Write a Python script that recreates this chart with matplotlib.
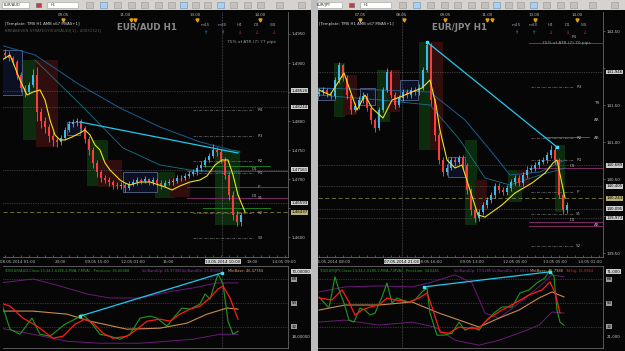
import matplotlib.pyplot as plt
import matplotlib.transforms as mtransforms
from matplotlib.patches import Rectangle
import numpy as np

W, H = 625, 351
BG = "#060606"
TXT = "#b8b8b8"
BULL = "#3db6f2"
BEAR = "#ff3a3a"

# ---------------- EUR/AUD H1 ------------------------------------------------
aud_close = [1.4914, 1.4909, 1.4902, 1.4879, 1.4857, 1.4850, 1.4862, 1.4880, 1.4815, 1.4800,
             1.4790, 1.4775, 1.4767, 1.4764, 1.4771, 1.4785, 1.4795, 1.4798, 1.4800, 1.4788,
             1.4769, 1.4750, 1.4728, 1.4712, 1.4702, 1.4699, 1.4695, 1.4690, 1.4689, 1.4690,
             1.4685, 1.4692, 1.4695, 1.4699, 1.4697, 1.4700, 1.4695, 1.4699, 1.4694, 1.4689,
             1.4694, 1.4695, 1.4697, 1.4702, 1.4702, 1.4706, 1.4709, 1.4712, 1.4719, 1.4725,
             1.4733, 1.4740, 1.4750, 1.4747, 1.4733, 1.4707, 1.4673, 1.4639, 1.4627, 1.4639]
aud_high = [1.4925, 1.4920, 1.4912, 1.4905, 1.4884, 1.4862, 1.4868, 1.4890, 1.4893, 1.4822,
            1.4808, 1.4796, 1.4781, 1.4773, 1.4777, 1.4790, 1.4801, 1.4804, 1.4806, 1.4804,
            1.4792, 1.4774, 1.4755, 1.4733, 1.4716, 1.4707, 1.4704, 1.4699, 1.4696, 1.4695,
            1.4694, 1.4697, 1.4700, 1.4704, 1.4703, 1.4705, 1.4703, 1.4704, 1.4703, 1.4698,
            1.4699, 1.4700, 1.4702, 1.4707, 1.4708, 1.4711, 1.4715, 1.4718, 1.4724, 1.4731,
            1.4738, 1.4746, 1.4760, 1.4755, 1.4752, 1.4738, 1.4712, 1.4680, 1.4645, 1.4644]
aud_low = [1.4908, 1.4904, 1.4896, 1.4872, 1.4850, 1.4842, 1.4846, 1.4858, 1.4800, 1.4788,
           1.4780, 1.4765, 1.4758, 1.4756, 1.4759, 1.4768, 1.4781, 1.4790, 1.4792, 1.4782,
           1.4762, 1.4742, 1.4720, 1.4704, 1.4695, 1.4693, 1.4688, 1.4684, 1.4683, 1.4684,
           1.4679, 1.4681, 1.4688, 1.4691, 1.4692, 1.4693, 1.4690, 1.4691, 1.4689, 1.4684,
           1.4686, 1.4690, 1.4691, 1.4694, 1.4697, 1.4699, 1.4702, 1.4705, 1.4708, 1.4715,
           1.4721, 1.4729, 1.4737, 1.4740, 1.4728, 1.4700, 1.4665, 1.4630, 1.4620, 1.4620]
aud_first_open = 1.4918
aud_ma_x = [-0.75, 1.25, 3.75, 5.5, 7, 8.75, 10, 11.25, 12.5, 13.75, 15, 16.75, 18.75, 20,
            21.25, 22.5, 23.75, 25, 26.25, 27.5, 28.75, 30, 31.25, 33.75, 36.25, 40, 41.75,
            43.75, 46.25, 48.75, 50.5, 52.5, 54.25, 55.75, 57, 58.25, 60]
aud_ma = [1.49053, 1.49139, 1.48709, 1.48451, 1.48502, 1.48537, 1.48365, 1.48021, 1.47763,
          1.47677, 1.47677, 1.47728, 1.47797, 1.47849, 1.47763, 1.47591, 1.47505, 1.47281,
          1.47161, 1.47075, 1.46989, 1.46937, 1.46903, 1.46954, 1.46954, 1.46868, 1.46817,
          1.46886, 1.46954, 1.46989, 1.47058, 1.47247, 1.47333, 1.47333, 1.47075, 1.46731,
          1.46438]
aud_slow1_x = [-1.25, 7.5, 18.75, 28.75, 38.75, 48.75, 58.75]
aud_slow1 = [1.49311, 1.49139, 1.48623, 1.48227, 1.47900, 1.47642, 1.47470]
aud_slow2_x = [7.5, 19.5, 29.5, 38.75, 46.25, 53.75, 58.75]
aud_slow2 = [1.49053, 1.48244, 1.47539, 1.47247, 1.47161, 1.47126, 1.47126]
aud_trend_x = [18.75, 58.25]
aud_trend = [1.47986, 1.47453]
aud_zone_x0 = [4.5, 7.75, 20.5, 23.25, 37.5, 41.25, 52.5]
aud_zone_x1 = [9.5, 13.25, 25.75, 29.25, 42.5, 46.25, 58.75]
aud_zone_lo = [1.47677, 1.47557, 1.46886, 1.46868, 1.46679, 1.46696, 1.46215]
aud_zone_hi = [1.49053, 1.49053, 1.47677, 1.47333, 1.47126, 1.47023, 1.47505]
aud_zone_buy = [True, False, True, False, True, False, True]
aud_range_x0 = [-1.25, 15.5, 29.5]
aud_range_x1 = [4.25, 18.75, 38]
aud_range_lo = [1.48451, 1.47763, 1.46782]
aud_range_hi = [1.49225, 1.47986, 1.47126]
aud_pivot_names = ["R4", "R3", "R2", "R1", "P", "S1", "S2", "S3"]
aud_pivots = [1.48193, 1.47746, 1.47316, 1.47109, 1.46868, 1.46679, 1.46421, 1.45991]
aud_daily_names = ["D1", "", "D1"]
aud_daily = [1.47144, 1.46868, 1.46679]
aud_green_levels = [1.47230, 1.46507]
aud_marks = [1.48520, 1.48244, 1.47161, 1.46593]
aud_current = 1.46437
aud_price_ticks = [1.4600, 1.4650, 1.4700, 1.4750, 1.4800, 1.4850, 1.4900, 1.4950]
aud_time_x = [3.25, 13.75, 23, 32, 40.75, 54.5, 61.75, 69.75]
aud_time_lbl = ["08.05.2014 01:00", "23:00", "09.05 15:00", "12.05 01:00", "15:00",
                "13.05.2014 10:00", "19:00", "14.05 09:00"]
aud_cursor = 54.25
aud_top_x = [14.5, 30, 47.5, 63.75]
aud_top_lbl = ["09.05", "11.00", "13.00", "14.00"]
aud_sess_x = [14.5, 31.5, 32.5, 48, 63.75]

# TDI sub-window EUR/AUD
aud_fast_x = [-1.25, 1.25, 3.75, 6.75, 8.75, 11.25, 15, 18, 19.25, 21.25, 23.75, 26.25, 28.75,
              31.25, 33.75, 36.25, 38, 40.5, 42.5, 44.25, 46.25, 48.75, 50, 51.25, 53.25, 54.5,
              55.75, 57, 58.25]
aud_fast = [53.8, 30.2, 26.4, 38.6, 26.4, 24.9, 34.0, 38.6, 41.6, 36.3, 26.4, 24.9, 22.6, 26.4,
            38.6, 40.1, 38.6, 32.5, 40.1, 46.2, 45.4, 49.2, 56.8, 53.0, 72.0, 64.4, 36.3, 26.4,
            28.7]
aud_sig_x = [-1.25, 1.25, 4.5, 8, 12, 14.5, 17.5, 20, 22, 24.5, 27, 30.5, 33, 35.5, 38.75,
             41.25, 43.75, 46.25, 48.75, 51.25, 53.25, 54.5, 56.25, 58.25]
aud_sig = [50.0, 47.7, 38.6, 32.5, 23.4, 24.9, 34.0, 37.8, 34.8, 27.2, 23.4, 24.9, 30.2, 36.3,
           37.8, 36.3, 41.6, 45.4, 47.7, 53.8, 60.6, 62.9, 53.8, 37.8]
aud_base_x = [-1.25, 7, 15.5, 21.25, 30.5, 38.75, 45.5, 50.5, 55.5, 58.25]
aud_base = [43.9, 43.9, 41.6, 36.3, 30.2, 31.0, 34.8, 41.6, 46.2, 45.4]
aud_up_x = [-1.25, 7, 13.75, 20.5, 26.25, 33.75, 42, 47, 53, 58.25]
aud_up = [65.2, 68.2, 62.9, 56.8, 53.8, 53.8, 59.1, 61.4, 65.2, 65.2]
aud_dn_x = [-1.25, 7, 15.5, 23.75, 33.75, 40.5, 47, 53.75, 58.25]
aud_dn = [31.0, 26.4, 21.1, 19.6, 19.6, 21.1, 22.6, 26.4, 26.4]
aud_tdi_trend_x = [18.75, 54.25]
aud_tdi_trend = [40.1, 72.8]
aud_tdi_text = ["TDI(EUR/AUD,Close,13,34,1.6185,2,MVA,7,MVA) - PriceLine: 36.60488",
                "VolBandUp: 65.97306", "VolBandDn: 25.80060", "MktBase: 46.47784"]
aud_tdi_scale = ["70,00000", "18,00000"]

# ---------------- EUR/JPY H1 ------------------------------------------------
jpy_close = [141.676, 141.703, 141.649, 141.622, 141.838, 142.041, 141.865, 141.635, 141.432,
             141.486, 141.568, 141.622, 141.459, 141.297, 141.189, 141.432, 141.703, 141.946,
             141.635, 141.500, 141.595, 141.676, 141.635, 141.703, 141.676, 141.730, 141.973,
             142.311, 141.568, 141.095, 140.757, 140.595, 140.649, 140.757, 140.730, 140.784,
             140.689, 140.351, 140.081, 139.973, 140.054, 140.149, 140.216, 140.284, 140.405,
             140.351, 140.324, 140.378, 140.459, 140.514, 140.446, 140.554, 140.622, 140.649,
             140.689, 140.730, 140.757, 140.824, 140.892, 140.757, 140.284, 140.081, 140.149]
jpy_high = [141.73, 141.75, 141.73, 141.68, 141.88, 142.08, 142.06, 141.90, 141.66, 141.53,
            141.62, 141.67, 141.66, 141.49, 141.33, 141.47, 141.75, 142.00, 141.97, 141.67,
            141.64, 141.72, 141.71, 141.75, 141.74, 141.78, 142.02, 142.36, 142.34, 141.60,
            141.13, 140.80, 140.70, 140.80, 140.80, 140.83, 140.82, 140.72, 140.38, 140.12,
            140.10, 140.19, 140.26, 140.33, 140.45, 140.44, 140.39, 140.42, 140.50, 140.56,
            140.55, 140.60, 140.67, 140.69, 140.73, 140.77, 140.80, 140.87, 140.96, 140.93,
            140.79, 140.32, 140.19]
jpy_low = [141.62, 141.64, 141.61, 141.58, 141.60, 141.80, 141.82, 141.58, 141.38, 141.40,
           141.45, 141.53, 141.42, 141.24, 141.13, 141.16, 141.40, 141.68, 141.60, 141.45,
           141.47, 141.56, 141.59, 141.60, 141.63, 141.64, 141.70, 141.95, 141.50, 141.02,
           140.70, 140.54, 140.56, 140.62, 140.68, 140.70, 140.64, 140.30, 140.02, 139.92,
           139.93, 140.01, 140.11, 140.18, 140.25, 140.31, 140.28, 140.29, 140.34, 140.42,
           140.40, 140.41, 140.52, 140.59, 140.61, 140.65, 140.70, 140.72, 140.79, 140.70,
           140.24, 140.03, 140.04]
jpy_first_open = 141.650
jpy_ma_x = [0, 2.75, 6.25, 9.5, 11.5, 13.25, 16, 18.25, 20.25, 23.25, 25.75, 27.75, 29.25,
            30.25, 32, 34, 35.75, 37.75, 39.75, 41.5, 45.75, 49, 53.25, 56.5, 58.5, 59.5, 61.5]
jpy_ma = [141.703, 141.635, 141.932, 141.432, 141.635, 141.459, 141.324, 141.568, 141.608,
          141.676, 141.730, 141.838, 141.500, 141.162, 140.757, 140.649, 140.689, 140.351,
          140.014, 139.986, 140.149, 140.311, 140.446, 140.581, 140.716, 140.757, 140.243]
jpy_slow1_x = [0, 15.25, 27.75, 36.5, 42.75, 47.75, 55.25, 61.5]
jpy_slow1 = [141.730, 141.703, 141.676, 141.297, 140.892, 140.554, 140.595, 140.757]
jpy_slow2_x = [0, 15.25, 27.75, 35.25, 41.5, 47.75, 55.25, 61.5]
jpy_slow2 = [141.635, 141.568, 141.500, 141.027, 140.514, 140.419, 140.554, 140.649]
jpy_trend_x = [27, 59.5]
jpy_trend = [142.351, 140.932]
jpy_zone_x0 = [3.75, 6, 14.5, 17.25, 25, 27.75, 36.5, 39, 47.25, 49.5, 59]
jpy_zone_x1 = [6.5, 9.5, 17.75, 20.25, 28.25, 31, 39.5, 42, 50.75, 52.75, 61.5]
jpy_zone_lo = [141.338, 141.365, 141.270, 141.405, 140.892, 140.892, 139.878, 140.081, 140.189,
               140.419, 140.054]
jpy_zone_hi = [142.068, 141.905, 141.973, 141.973, 142.351, 142.351, 141.027, 140.486, 140.622,
               140.622, 140.959]
jpy_zone_buy = [True, False, True, False, True, False, True, False, True, False, True]
jpy_range_x0 = [-0.25, 10.25, 20.25, 32.25]
jpy_range_x1 = [4, 14, 24.75, 36.5]
jpy_range_lo = [141.568, 141.500, 141.568, 140.527]
jpy_range_hi = [141.730, 141.730, 141.838, 140.797]
jpy_pivot_names = ["R3", "R2", "R1", "P", "S1", "S2"]
jpy_pivots = [141.743, 141.054, 140.757, 140.324, 140.027, 139.595]
jpy_daily_names = ["", "D1", "D1", ""]
jpy_daily = [142.338, 140.649, 139.919, 139.865]
jpy_green_levels = [141.068]
jpy_marks = [141.946, 140.689, 140.405, 140.095, 139.973]
jpy_current = 140.243
jpy_price_ticks = [139.50, 140.00, 140.50, 141.00, 141.50, 142.00, 142.50]
jpy_time_x = [3.5, 20.75, 27.75, 38.25, 49, 59, 67.75]
jpy_time_lbl = ["06.05.2014 08:00", "07.05.2014 21:00", "08.05 16:00", "09.05 13:00",
                "12.05 05:00", "13.05 05:00", "14.05 01:00"]
jpy_cursor = 20.75
jpy_top_x = [10.25, 20.5, 31.5, 42, 53.75, 64.5]
jpy_top_lbl = ["07.05", "08.05", "09.05", "11.00", "13.00", "14.00"]
jpy_sess_x = [10.25, 21.25, 31.5, 42, 43.25, 54, 64.5]

jpy_fast_x = [0, 2.5, 4, 5, 6.25, 7.5, 8.75, 10.25, 11.5, 12.75, 14, 15.75, 17, 18.25, 19.5,
              20.75, 22.5, 24, 25.75, 27, 27.75, 29.5, 31.25, 33.25, 35, 36.5, 38.25, 40, 41.5,
              43.75, 45.75, 48.25, 50.25, 52.5, 54.5, 56.5, 57.75, 58.75, 59.5, 60.25, 61.25]
jpy_fast = [54.6, 46.2, 69.8, 59.9, 50.0, 37.1, 35.6, 46.2, 44.7, 40.9, 42.4, 54.6, 65.2, 50.0,
            53.8, 52.3, 50.8, 52.3, 58.4, 61.4, 42.4, 25.7, 25.7, 27.2, 35.6, 29.5, 31.8, 29.5,
            35.6, 42.4, 47.0, 47.0, 57.6, 59.9, 65.2, 69.0, 75.1, 69.8, 44.7, 35.6, 33.3]
jpy_sig_x = [0, 3.25, 5.75, 7.5, 9, 10.75, 12.75, 15, 17, 19, 22.5, 25, 27, 28.25, 30.25, 32.5,
             35, 37.5, 40, 42.5, 45.75, 49, 52.5, 55.75, 57.75, 59, 60.25]
jpy_sig = [53.8, 52.3, 59.9, 50.8, 40.9, 44.7, 47.0, 48.5, 53.8, 52.3, 50.8, 53.8, 57.6, 47.0,
           28.0, 27.2, 31.8, 31.0, 31.0, 38.6, 44.7, 50.0, 56.1, 59.9, 66.0, 57.6, 42.4]
jpy_base_x = [0, 6.5, 15, 23.25, 30, 36.5, 40, 45, 50, 55, 58.25, 61.25]
jpy_base = [44.7, 48.5, 48.5, 50.8, 42.4, 35.6, 31.8, 38.6, 44.7, 53.8, 58.4, 54.6]
jpy_up_x = [0, 6.5, 15, 23.25, 27.5, 34, 38.25, 41.5, 45, 50, 55, 58.25, 61.25]
jpy_up = [58.4, 62.2, 62.9, 62.2, 65.2, 71.3, 65.2, 42.4, 38.6, 50.0, 62.2, 71.3, 69.8]
jpy_dn_x = [0, 6.5, 15, 23.25, 29, 34, 40, 45, 50, 55, 58.25, 61.25]
jpy_dn = [35.6, 37.1, 33.3, 35.6, 31.8, 21.9, 18.1, 21.9, 27.2, 33.3, 43.2, 42.4]
jpy_tdi_trend_x = [26.25, 57.75]
jpy_tdi_trend = [62.2, 73.6]
jpy_tdi_text = ["TDI(EUR/JPY,Close,13,34,1.6185,2,MVA,7,MVA) - PriceLine: 34.6461",
                "VolBandUp: 73.5285", "VolBandDn: 37.6815", "MktBase: 45.7988",
                "TrdSig: 41.8864"]
jpy_tdi_scale = ["71,000", "21,000"]

tdi_levels = [32, 50, 68]


def px_axes(fig, x, y, w, h):
    return fig.add_axes([x / W, 1 - (y + h) / H, w / W, h / H])


def ftext(fig, x, y, s, **kw):
    return fig.text(x / W, 1 - y / H, s, **kw)


def comma(v, nd):
    return f"{v:.{nd}f}".replace(".", ",")


def dark_axes(ax):
    ax.set_facecolor(BG)
    for name, sp in ax.spines.items():
        sp.set_visible(name in ("right", "bottom"))
        sp.set_color("#7a7a7a")
        sp.set_linewidth(0.5)


def main_chart(fig, x, d):
    ax = px_axes(fig, x, 12, 285, 245)
    dark_axes(ax)
    ax.set_xlim(*d["xlim"])
    ax.set_ylim(*d["ylim"])
    xy = mtransforms.blended_transform_factory(ax.transData, ax.transAxes)
    ay = mtransforms.blended_transform_factory(ax.transAxes, ax.transData)

    # signal zones
    for x0, x1, lo, hi, buy in zip(d["zx0"], d["zx1"], d["zlo"], d["zhi"], d["zbuy"]):
        ax.add_patch(Rectangle((x0, lo), x1 - x0, hi - lo, lw=0,
                               fc="#0d2c0e" if buy else "#300e0e", zorder=1))
    for x0, x1, lo, hi in zip(d["rx0"], d["rx1"], d["rlo"], d["rhi"]):
        ax.add_patch(Rectangle((x0, lo), x1 - x0, hi - lo, lw=0.6, fc="#0b1024",
                               ec="#56658a", zorder=1.5))

    # full width reference lines + boxed labels
    for m in d["marks"]:
        ax.axhline(m, color="#6a6a6a", ls=(0, (1, 1.5)), lw=0.5, zorder=2)
        ax.text(1.012, m, comma(m, d["nd"]), transform=ay, fontsize=2.9, color="black",
                va="center", ha="left", clip_on=False, zorder=8,
                bbox=dict(boxstyle="square,pad=0.12", fc="#cfcfcf", ec="none"))
    ax.axhline(d["current"], color="#7a7a40", ls=(0, (5, 3)), lw=0.6, zorder=2)
    ax.text(1.012, d["current"], comma(d["current"], d["nd"]), transform=ay, fontsize=2.9,
            color="black", va="center", ha="left", clip_on=False, zorder=8,
            bbox=dict(boxstyle="square,pad=0.12", fc="#b8b070", ec="none"))

    # pivots
    for name, p in zip(d["pnames"], d["pivots"]):
        ax.plot([d["pstart"], d["pend"]], [p, p], color="#6e6e6e", lw=0.5,
                ls=(0, (4, 1.5, 1, 1.5)), zorder=2)
        ax.text(d["plabel"], p, name, color="#a8a8a8", fontsize=3, va="center", zorder=6)
    for name, p in zip(d["dnames"], d["daily"]):
        ax.plot([d["dstart"], d["xlim"][1]], [p, p], color="#7a2a62", lw=0.7, zorder=2)
        if name:
            ax.text(d["plabel"] - 1.6, p, name, color="#a8a8a8", fontsize=3, va="bottom")
    for p in d["greens"]:
        ax.plot([d["dstart"] + 4, d["pend"] + 4], [p, p], color="#1d7a1d", lw=0.7, zorder=2)

    # slow averages
    ax.plot(d["s1x"], d["s1"], color="#1a5d94", lw=0.7, zorder=3)
    ax.plot(d["s2x"], d["s2"], color="#16738a", lw=0.6, zorder=3)

    # candles
    c = np.array(d["close"])
    o = np.r_[d["open0"], c[:-1]]
    xs = np.arange(len(c))
    body = np.maximum(np.abs(c - o), d["minbody"])
    cols = np.where(c >= o, BULL, BEAR)
    wick = np.where(c >= o, "#8fd4f7", "#ff8a8a")
    ax.vlines(xs, d["low"], d["high"], colors=wick, lw=0.45, zorder=4)
    ax.bar(xs, body, bottom=np.minimum(o, c), width=0.6, color=cols, lw=0, zorder=4)

    ax.plot(d["max"], d["ma"], color="#f2e21a", lw=0.8, zorder=5)
    ax.plot(d["tx"], d["tr"], color="#20c8f0", lw=0.9, zorder=6)
    if d["tsq"]:
        ax.plot(d["tx"], d["tr"], ls="none", marker="s", ms=2, color="#40e0ff", zorder=7)

    ax.axvline(d["cursor"], color="#707070", ls=(0, (1, 1.2)), lw=0.5, zorder=2)

    # price axis, tick labels hidden where a boxed label sits on top of them
    ax.yaxis.tick_right()
    ax.set_yticks(d["yticks"])
    gap = (d["ylim"][1] - d["ylim"][0]) / 245 * 5
    boxed = d["marks"] + [d["current"]]
    ax.set_yticklabels(["" if min(abs(v - b) for b in boxed) < gap else comma(v, d["tnd"])
                        for v in d["yticks"]])
    ax.tick_params(axis="y", colors="#8a8a8a", labelcolor="#c8c8c8", labelsize=2.9,
                   length=1.5, width=0.4, pad=1)
    ax.set_xticks(np.arange(0, d["xlim"][1], 2))
    ax.set_xticklabels([])
    ax.tick_params(axis="x", colors="#8a8a8a", length=1.5, width=0.4, direction="in")

    # time labels below
    for tx, lbl in zip(d["time_x"], d["time_lbl"]):
        hl = lbl == d["time_hl"]
        ax.text(tx, -0.02, lbl, transform=xy, fontsize=2.9, ha="center", va="center",
                color="black" if hl else TXT, clip_on=False,
                bbox=dict(boxstyle="square,pad=0.12", fc="#cfcfcf", ec="none") if hl else None)
    # session scale on top
    for tx, lbl in zip(d["top_x"], d["top_lbl"]):
        ax.text(tx, 0.988, lbl, transform=xy, fontsize=2.9, ha="center", va="center",
                color=TXT)
    ax.plot(d["sess_x"], [0.966] * len(d["sess_x"]), transform=xy, ls="none", marker="v",
            ms=2.2, color="#e0a010", clip_on=False)
    return ax


def tdi_chart(fig, x, d):
    ax = px_axes(fig, x, 266, 285, 82)
    dark_axes(ax)
    ax.spines["top"].set_visible(True)
    ax.spines["top"].set_color("#7a7a7a")
    ax.spines["top"].set_linewidth(0.5)
    ax.set_xlim(*d["xlim"])
    ax.set_ylim(16, 78)
    for lv in tdi_levels:
        ax.axhline(lv, color="#5c5c5c", ls=(0, (1, 1.5)), lw=0.5)
    ax.axvline(d["cursor"], color="#707070", ls=(0, (1, 1.2)), lw=0.5)
    ax.plot(d["upx"], d["up"], color="#6a1a78", lw=0.7)
    ax.plot(d["dnx"], d["dn"], color="#6a1a78", lw=0.7)
    ax.plot(d["bx"], d["base"], color="#c88a50", lw=0.8)
    ax.plot(d["fx"], d["fast"], color="#1f9a1f", lw=0.8)
    ax.plot(d["sx"], d["sig"], color="#ff1a1a", lw=0.9)
    ax.plot(d["ttx"], d["tt"], color="#20c8f0", lw=0.9)
    ax.plot(d["ttx"], d["tt"], ls="none", marker="s", ms=2, color="#40e0ff")
    ay = mtransforms.blended_transform_factory(ax.transAxes, ax.transData)
    ax.set_yticks([])
    ax.set_xticks([])
    for lv in tdi_levels:
        ax.text(1.012, lv, str(lv), transform=ay, fontsize=2.9, color="black", va="center",
                ha="left", clip_on=False,
                bbox=dict(boxstyle="square,pad=0.12", fc="#9a9a9a", ec="none"))
    top, bottom = d["scale"]
    ax.text(1.012, 0.93, top, transform=ax.transAxes, fontsize=2.9, color="black",
            va="center", ha="left", clip_on=False,
            bbox=dict(boxstyle="square,pad=0.12", fc="#cfcfcf", ec="none"))
    ax.text(1.012, 0.14, bottom, transform=ax.transAxes, fontsize=2.9, color="#c8c8c8",
            va="center", ha="left", clip_on=False)
    return ax


fig = plt.figure(figsize=(6.25, 3.51), dpi=100, facecolor="#b9b9b9")
bg = fig.add_axes([0, 0, 1, 1])
bg.set_xlim(0, W)
bg.set_ylim(H, 0)
bg.axis("off")

for ox, wdt, sym in [(0, 311, "EUR/AUD"), (313, 312, "EUR/JPY")]:
    chart_x = ox if ox == 0 else 318
    bg.add_patch(Rectangle((chart_x, 10), ox + wdt - chart_x, 341, fc=BG, lw=0))
    bg.add_patch(Rectangle((ox, 0), wdt, 10, fc="#d6d3ce", lw=0))
    bg.add_patch(Rectangle((ox + 2, 2), 27, 6, fc="white", ec="#9a9a9a", lw=0.4))
    bg.text(ox + 4, 5, sym, fontsize=2.6, va="center", color="#202020")
    bg.add_patch(Rectangle((ox + 36, 3), 5, 4, fc="#c04040", ec="#4060a0", lw=0.4))
    bg.add_patch(Rectangle((ox + 47, 2), 31, 6, fc="white", ec="#9a9a9a", lw=0.4))
    bg.text(ox + 51, 5, "H1", fontsize=2.6, va="center", color="#202020")
    for ix in [86, 100, 114, 128, 141, 155, 168, 180, 192, 204, 217, 230, 244, 257, 276, 298]:
        hl = ix in (100, 180, 217)
        bg.add_patch(Rectangle((ox + ix, 2), 7, 6, fc="#a9cff2" if hl else "#c4c1bb",
                               ec="#6f8fb0" if hl else "#9a9a9a", lw=0.4))
bg.add_patch(Rectangle((311, 0), 7, H, fc="#bdbdbd", lw=0))

aud = dict(xlim=(-0.5, 70.75), ylim=(1.45664, 1.49878), close=aud_close, open0=aud_first_open,
           high=aud_high, low=aud_low, minbody=0.00006, ma=aud_ma, max=aud_ma_x,
           s1x=aud_slow1_x, s1=aud_slow1, s2x=aud_slow2_x, s2=aud_slow2, tx=aud_trend_x,
           tr=aud_trend, tsq=False, zx0=aud_zone_x0, zx1=aud_zone_x1, zlo=aud_zone_lo,
           zhi=aud_zone_hi, zbuy=aud_zone_buy, rx0=aud_range_x0, rx1=aud_range_x1,
           rlo=aud_range_lo, rhi=aud_range_hi, pnames=aud_pivot_names, pivots=aud_pivots,
           pstart=47, pend=62.3, plabel=63.2, dnames=aud_daily_names, daily=aud_daily,
           dstart=45.5, greens=aud_green_levels, marks=aud_marks, current=aud_current, nd=5,
           yticks=aud_price_ticks, tnd=4, time_x=aud_time_x, time_lbl=aud_time_lbl,
           time_hl="13.05.2014 10:00", cursor=aud_cursor, top_x=aud_top_x, top_lbl=aud_top_lbl,
           sess_x=aud_sess_x)
jpy = dict(xlim=(-0.25, 71), ylim=(139.446, 142.757), close=jpy_close, open0=jpy_first_open,
           high=jpy_high, low=jpy_low, minbody=0.006, ma=jpy_ma, max=jpy_ma_x,
           s1x=jpy_slow1_x, s1=jpy_slow1, s2x=jpy_slow2_x, s2=jpy_slow2, tx=jpy_trend_x,
           tr=jpy_trend, tsq=True, zx0=jpy_zone_x0, zx1=jpy_zone_x1, zlo=jpy_zone_lo,
           zhi=jpy_zone_hi, zbuy=jpy_zone_buy, rx0=jpy_range_x0, rx1=jpy_range_x1,
           rlo=jpy_range_lo, rhi=jpy_range_hi, pnames=jpy_pivot_names, pivots=jpy_pivots,
           pstart=53, pend=63.5, plabel=64.3, dnames=jpy_daily_names, daily=jpy_daily,
           dstart=52.5, greens=jpy_green_levels, marks=jpy_marks, current=jpy_current, nd=3,
           yticks=jpy_price_ticks, tnd=2, time_x=jpy_time_x, time_lbl=jpy_time_lbl,
           time_hl="07.05.2014 21:00", cursor=jpy_cursor, top_x=jpy_top_x, top_lbl=jpy_top_lbl,
           sess_x=jpy_sess_x)

main_chart(fig, 3, aud)
main_chart(fig, 318, jpy)

tdi_chart(fig, 3, dict(xlim=aud["xlim"], cursor=aud_cursor, upx=aud_up_x, up=aud_up,
                       dnx=aud_dn_x, dn=aud_dn, bx=aud_base_x, base=aud_base, fx=aud_fast_x,
                       fast=aud_fast, sx=aud_sig_x, sig=aud_sig, ttx=aud_tdi_trend_x,
                       tt=aud_tdi_trend, scale=aud_tdi_scale))
tdi_chart(fig, 318, dict(xlim=jpy["xlim"], cursor=jpy_cursor, upx=jpy_up_x, up=jpy_up,
                         dnx=jpy_dn_x, dn=jpy_dn, bx=jpy_base_x, base=jpy_base, fx=jpy_fast_x,
                         fast=jpy_fast, sx=jpy_sig_x, sig=jpy_sig, ttx=jpy_tdi_trend_x,
                         tt=jpy_tdi_trend, scale=jpy_tdi_scale))

# chart headers
small = dict(fontsize=2.8, va="center")
ftext(fig, 5, 24, "[Template: TMS H1 AMB v67 MVAS+1]", color="#d8d8d8", **small)
ftext(fig, 5, 30, "BREAKEVEN STRATEGY(EUR/AUD)[1] , 40031321]", color="#5a5a5a", **small)
ftext(fig, 319, 24, "[Template: TMS H1 AMB v67 MVAS+1]", color="#d8d8d8", **small)
ftext(fig, 117, 27, "EUR/AUD H1", fontsize=6.3, fontweight="bold", color="#8a8a8a", va="center")
ftext(fig, 432, 27, "EUR/JPY H1", fontsize=6.3, fontweight="bold", color="#8a8a8a", va="center")
tfs = ["m15", "m30", "H4", "D1", "W1"]
tf_up = [True, True, False, False, False]
for base_x in (205, 516):
    for k, (tf, up) in enumerate(zip(tfs, tf_up)):
        cx = base_x + k * 17
        ftext(fig, cx, 25, tf, fontsize=3, color="#9a9ab0", ha="center", va="center")
        ftext(fig, cx, 32, "↑" if up else "↓", fontsize=3.6, fontweight="bold",
              color="#1e7fc0" if up else "#c01818", ha="center", va="center")
ftext(fig, 227, 42, "75% of ATR (7) 77 pips", color="#9a9a9a", fontsize=3.1, va="center")
ftext(fig, 542, 43, "75% of ATR (7) 70 pips", color="#9a9a9a", fontsize=3.1, va="center")
ftext(fig, 572, 36.5, "R4", color="#a8a8a8", fontsize=2.8, va="center")
for lbl, yy in [("TR", 103), ("AR", 120), ("AR", 138), ("AR", 225)]:
    ftext(fig, 594, yy, lbl, color="#b0b0b0", fontsize=3, va="center")

# TDI headers
tdi_cols_aud = ["#2aa02a", "#8c3a9c", "#8c3a9c", "#e0a070"]
for s, col, xx in zip(aud_tdi_text, tdi_cols_aud, [4, 142, 182, 228]):
    ftext(fig, xx, 271, s, color=col, fontsize=2.6, va="center")
tdi_cols_jpy = ["#2aa02a", "#8c3a9c", "#8c3a9c", "#e0a070", "#e02020"]
for s, col, xx in zip(jpy_tdi_text, tdi_cols_jpy, [319, 454, 492, 530, 565]):
    ftext(fig, xx, 271, s, color=col, fontsize=2.6, va="center")

fig.savefig("out.png", dpi=100, facecolor=fig.get_facecolor())
